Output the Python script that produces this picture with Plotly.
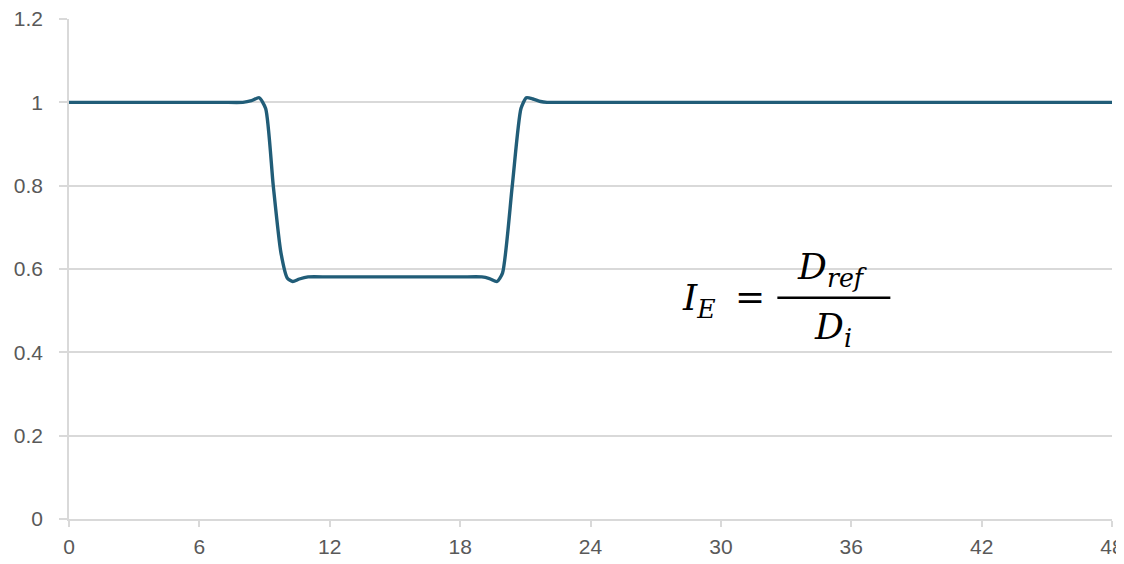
import plotly.graph_objects as go

# Data
hours = [0, 1, 7, 8, 8.4, 8.75, 9.05, 9.4, 9.75, 10.05, 10.3, 10.6, 11.0, 12, 18, 19.0, 19.35, 19.7, 19.95, 20.4, 20.8, 21.05, 21.35, 21.7, 22.0, 23, 47, 48]
ie_values = [1, 1, 1, 1, 1.004, 1.011, 0.985, 0.80, 0.64, 0.578, 0.570, 0.576, 0.581, 0.581, 0.581, 0.581, 0.577, 0.570, 0.59, 0.80, 0.985, 1.011, 1.008, 1.002, 1, 1, 1, 1]
x_ticks = [0, 6, 12, 18, 24, 30, 36, 42, 48]
y_ticks = [0, 0.2, 0.4, 0.6, 0.8, 1.0, 1.2]
y_tick_text = ["0", "0.2", "0.4", "0.6", "0.8", "1", "1.2"]

line_color = "#215d78"
grid_color = "#d9d9d9"
label_color = "#595959"
tick_font = dict(family="Arial, Liberation Sans, sans-serif", size=21, color=label_color)

fig = go.Figure()
fig.add_trace(go.Scatter(
    x=hours, y=ie_values, mode="lines",
    line=dict(color=line_color, width=3.4, shape="spline", smoothing=0.6),
    showlegend=False, hoverinfo="skip",
))

fig.update_layout(
    width=1116, height=556,
    margin=dict(l=61, r=12, t=11, b=45, autoexpand=False),
    paper_bgcolor="white", plot_bgcolor="white",
    font=tick_font,
)
fig.update_xaxes(
    range=[0, 48], tickvals=x_ticks, ticktext=[str(v) for v in x_ticks],
    showgrid=False, zeroline=False, automargin=False,
    showline=True, linecolor=grid_color, linewidth=1.5,
    ticks="outside", ticklen=6, tickcolor=grid_color, tickwidth=1.5,
    tickfont=tick_font, ticklabelstandoff=2, ticklabeloverflow="allow",
)
fig.update_yaxes(
    range=[0, 1.2], tickvals=y_ticks, ticktext=y_tick_text,
    showgrid=True, gridcolor=grid_color, gridwidth=1.5, zeroline=False, automargin=False,
    showline=True, linecolor=grid_color, linewidth=1.5,
    ticks="outside", ticklen=8, tickcolor=grid_color, tickwidth=1.5,
    tickfont=tick_font, ticklabelstandoff=12, ticklabeloverflow="allow",
)

serif = "DejaVu Serif, Liberation Serif, serif"
fsize = 36
fig.add_annotation(x=29.0, y=0.524, xref="x", yref="y", showarrow=False,
                   text="<i>I</i><sub><i>E</i></sub>", font=dict(family=serif, size=fsize, color="black"))
fig.add_annotation(x=31.35, y=0.535, xref="x", yref="y", showarrow=False,
                   text="=", font=dict(family=serif, size=fsize, color="black"))
fig.add_annotation(x=35.15, y=0.600, xref="x", yref="y", showarrow=False,
                   text="<i>D</i><sub><i>ref</i></sub>", font=dict(family=serif, size=fsize, color="black"))
fig.add_annotation(x=35.15, y=0.455, xref="x", yref="y", showarrow=False,
                   text="<i>D</i><sub><i>i</i></sub>", font=dict(family=serif, size=fsize, color="black"))
fig.add_shape(type="line", xref="x", yref="y", x0=32.6, x1=37.8, y0=0.531, y1=0.531,
              line=dict(color="black", width=2.5))

fig.write_html("out.html")
